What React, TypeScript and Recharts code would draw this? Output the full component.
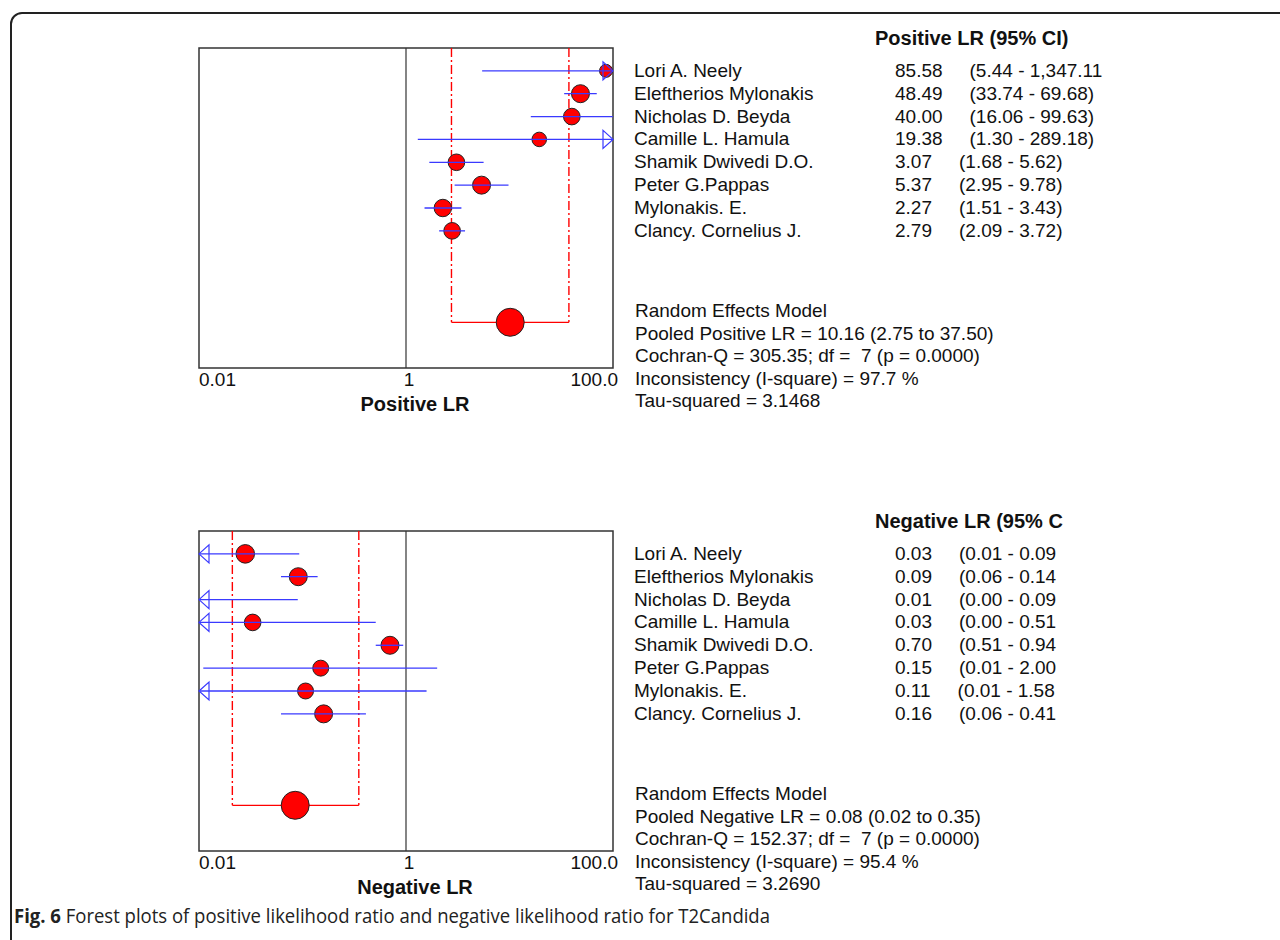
import { ComposedChart, ReferenceArea, ReferenceDot, ReferenceLine, Scatter, XAxis, YAxis, ZAxis } from 'recharts'

const studies = [
  'Lori A. Neely',
  'Eleftherios Mylonakis',
  'Nicholas D. Beyda',
  'Camille L. Hamula',
  'Shamik Dwivedi D.O.',
  'Peter G.Pappas',
  'Mylonakis. E.',
  'Clancy. Cornelius J.',
]

const xTicks = [0.01, 1, 100]
const xTickLabels = ['0.01', '1', '100.0']

// positive LR, per study: estimate, lower, upper, weight (%)
const posEst = [85.58, 48.49, 40.0, 19.38, 3.07, 5.37, 2.27, 2.79]
const posLo = [5.44, 33.74, 16.06, 1.3, 1.68, 2.95, 1.51, 2.09]
const posHi = [1347.11, 69.68, 99.63, 289.18, 5.62, 9.78, 3.43, 3.72]
const posWeight = [7.8, 15.0, 12.8, 9.8, 12.8, 15.0, 14.1, 12.8]
const posPooled = [10.16, 2.75, 37.5]
const posValueText = ['85.58', '48.49', '40.00', '19.38', '3.07', '5.37', '2.27', '2.79']
const posCiText = [
  '(5.44 - 1,347.11',
  '(33.74 - 69.68)',
  '(16.06 - 99.63)',
  '(1.30 - 289.18)',
  '(1.68 - 5.62)',
  '(2.95 - 9.78)',
  '(1.51 - 3.43)',
  '(2.09 - 3.72)',
]
const posStats = [
  'Random Effects Model',
  'Pooled Positive LR = 10.16 (2.75 to 37.50)',
  'Cochran-Q = 305.35; df =  7 (p = 0.0000)',
  'Inconsistency (I-square) = 97.7 %',
  'Tau-squared = 3.1468',
]

// negative LR
const negEst = [0.028, 0.091, 0.008, 0.033, 0.7, 0.15, 0.107, 0.16]
const negLo = [0.008, 0.062, 0.002, 0.002, 0.51, 0.011, 0.008, 0.062]
const negHi = [0.093, 0.14, 0.09, 0.51, 0.94, 2.0, 1.58, 0.41]
const negWeight = [14.6, 13.7, 10.8, 11.7, 13.7, 10.8, 10.8, 13.7]
const negPooled = [0.085, 0.021, 0.35]
const negValueText = ['0.03', '0.09', '0.01', '0.03', '0.70', '0.15', '0.11', '0.16']
const negCiText = [
  '(0.01 - 0.09',
  '(0.06 - 0.14',
  '(0.00 - 0.09',
  '(0.00 - 0.51',
  '(0.51 - 0.94',
  '(0.01 - 2.00',
  '(0.01 - 1.58',
  '(0.06 - 0.41',
]
const negStats = [
  'Random Effects Model',
  'Pooled Negative LR = 0.08 (0.02 to 0.35)',
  'Cochran-Q = 152.37; df =  7 (p = 0.0000)',
  'Inconsistency (I-square) = 95.4 %',
  'Tau-squared = 3.2690',
]

const X_DOMAIN: [number, number] = [0.01, 100]
const Y_DOMAIN: [number, number] = [-1, 13]
const POOLED_ROW = 11

const FONT = '"Liberation Sans", Arial, sans-serif'
const BLUE = '#3a3aff'
const RED = '#ff0000'

const PLOT_TOP = 48
const PLOT_H = 320
const ROW_H = PLOT_H / (Y_DOMAIN[1] - Y_DOMAIN[0])

function XTick(props: any) {
  const { x, y, index } = props
  const anchor = index === 0 ? 'start' : index === 1 ? 'middle' : 'end'
  const dx = index === 0 ? 0 : index === 1 ? 3 : 5
  return (
    <text x={x + dx} y={y + 18} textAnchor={anchor} fontSize={19} fontFamily={FONT} fill="#111">
      {xTickLabels[index]}
    </text>
  )
}

function StudyDot(props: any) {
  const { cx, cy, payload, size } = props
  if (cx == null || payload.est < X_DOMAIN[0] || payload.est > X_DOMAIN[1]) return <g />
  const r = Math.sqrt(size / Math.PI)
  return <circle cx={cx} cy={cy} r={r} fill={RED} stroke="#222" strokeWidth={1} />
}

function PooledDot(props: any) {
  const { cx, cy } = props
  return <circle cx={cx} cy={cy} r={14} fill={RED} stroke="#222" strokeWidth={1} />
}

function ArrowRight(props: any) {
  const { cx, cy } = props
  return <polygon points={`${cx},${cy} ${cx - 10},${cy - 9} ${cx - 10},${cy + 9}`} fill="none" stroke={BLUE} strokeWidth={1.2} />
}

function ArrowLeft(props: any) {
  const { cx, cy } = props
  return <polygon points={`${cx},${cy} ${cx + 10},${cy - 9} ${cx + 10},${cy + 9}`} fill="none" stroke={BLUE} strokeWidth={1.2} />
}

interface PanelProps {
  est: number[]
  lo: number[]
  hi: number[]
  weight: number[]
  pooled: number[]
  areaMax: number
  top: number
}

function ForestPanel({ est, lo, hi, weight, pooled, areaMax, top }: PanelProps) {
  const [xmin, xmax] = X_DOMAIN
  const rows = est.map((v, i) => ({ row: i, est: v, lo: lo[i], hi: hi[i], w: weight[i] }))
  const pooledData = [{ row: POOLED_ROW, est: pooled[0] }]

  return (
    <div style={{ position: 'absolute', left: 0, top, width: 640, height: 420 }}>
      <ComposedChart width={640} height={420} margin={{ top: PLOT_TOP, right: 27, bottom: 0, left: 199 }}>
        <XAxis
          type="number"
          dataKey="est"
          scale="log"
          domain={X_DOMAIN}
          allowDataOverflow
          ticks={xTicks}
          interval={0}
          height={52}
          axisLine={false}
          tickLine={false}
          tickSize={0}
          tickMargin={0}
          tick={<XTick />}
        />
        <YAxis type="number" dataKey="row" domain={Y_DOMAIN} reversed hide allowDataOverflow />
        <ZAxis type="number" dataKey="w" domain={[0, 100]} range={[0, areaMax]} />

        <ReferenceArea x1={xmin} x2={xmax} y1={Y_DOMAIN[0]} y2={Y_DOMAIN[1]} fill="none" stroke="#333" strokeWidth={1.5} fillOpacity={0} />
        <ReferenceLine x={1} stroke="#333" strokeWidth={1.2} />

        <ReferenceLine
          segment={[{ x: pooled[1], y: Y_DOMAIN[0] }, { x: pooled[1], y: POOLED_ROW }]}
          stroke={RED}
          strokeWidth={1.4}
          strokeDasharray="9 3 2 3"
        />
        <ReferenceLine
          segment={[{ x: pooled[2], y: Y_DOMAIN[0] }, { x: pooled[2], y: POOLED_ROW }]}
          stroke={RED}
          strokeWidth={1.4}
          strokeDasharray="9 3 2 3"
        />
        <ReferenceLine segment={[{ x: pooled[1], y: POOLED_ROW }, { x: pooled[2], y: POOLED_ROW }]} stroke={RED} strokeWidth={1.2} />

        <Scatter data={rows} shape={(p: any) => <StudyDot {...p} />} isAnimationActive={false} />
        <Scatter data={pooledData} shape={(p: any) => <PooledDot {...p} />} isAnimationActive={false} />

        {rows.map(r => (
          <ReferenceLine
            key={'ci' + r.row}
            segment={[{ x: Math.max(r.lo, xmin), y: r.row }, { x: Math.min(r.hi, xmax), y: r.row }]}
            stroke={BLUE}
            strokeWidth={1.3}
            zIndex={700}
          />
        ))}
        {rows.filter(r => r.hi > xmax).map(r => (
          <ReferenceDot key={'ar' + r.row} x={xmax} y={r.row} shape={(p: any) => <ArrowRight {...p} />} zIndex={700} />
        ))}
        {rows.filter(r => r.lo < xmin).map(r => (
          <ReferenceDot key={'al' + r.row} x={xmin} y={r.row} shape={(p: any) => <ArrowLeft {...p} />} zIndex={700} />
        ))}
      </ComposedChart>
    </div>
  )
}

function PanelText({ offset, header, values, cis, stats, axisLabel }: { offset: number; header: string; values: string[]; cis: string[]; stats: string[]; axisLabel: string }) {
  const rowY = (i: number) => offset + PLOT_TOP + (i - Y_DOMAIN[0]) * ROW_H
  return (
    <g fontFamily={FONT} fill="#111">
      <text x={875} y={offset + 45} fontSize={20} fontWeight="bold">{header}</text>
      {studies.map((s, i) => (
        <text key={s} x={634} y={rowY(i) + 6} fontSize={19} style={{ whiteSpace: 'pre' }}>
          {s}
        </text>
      ))}
      {values.map((v, i) => (
        <text key={'v' + i} x={895} y={rowY(i) + 6} fontSize={19}>
          {v}
          <tspan dx={27}>{cis[i]}</tspan>
        </text>
      ))}
      {stats.map((s, i) => (
        <text key={'s' + i} x={635} y={offset + 317 + i * 22.6} fontSize={19} style={{ whiteSpace: 'pre' }}>
          {s}
        </text>
      ))}
      <text x={415} y={offset + 411} fontSize={20} fontWeight="bold" textAnchor="middle">{axisLabel}</text>
    </g>
  )
}

export default function App() {
  const offset2 = 483
  return (
    <div style={{ position: 'absolute', left: 0, top: 0, width: 1280, height: 940, background: '#fff', overflow: 'hidden' }}>
      <svg width={1280} height={940} style={{ position: 'absolute', left: 0, top: 0 }}>
        <rect x={11} y={13} width={1320} height={980} rx={11} fill="none" stroke="#222" strokeWidth={2} />
        <PanelText offset={0} header="Positive LR (95% CI)" values={posValueText} cis={posCiText} stats={posStats} axisLabel="Positive LR" />
        <PanelText offset={offset2} header="Negative LR (95% C" values={negValueText} cis={negCiText} stats={negStats} axisLabel="Negative LR" />
        <text
          x={14}
          y={923}
          fontSize={20}
          fontFamily='"Open Sans", "Noto Sans", sans-serif'
          fill="#222"
          textLength={756}
          lengthAdjust="spacingAndGlyphs"
        >
          <tspan fontWeight="bold">Fig. 6</tspan> Forest plots of positive likelihood ratio and negative likelihood ratio for T2Candida
        </text>
      </svg>
      <ForestPanel est={posEst} lo={posLo} hi={posHi} weight={posWeight} pooled={posPooled} areaMax={Math.PI * 540} top={0} />
      <ForestPanel est={negEst} lo={negLo} hi={negHi} weight={negWeight} pooled={negPooled} areaMax={Math.PI * 590} top={offset2} />
    </div>
  )
}
